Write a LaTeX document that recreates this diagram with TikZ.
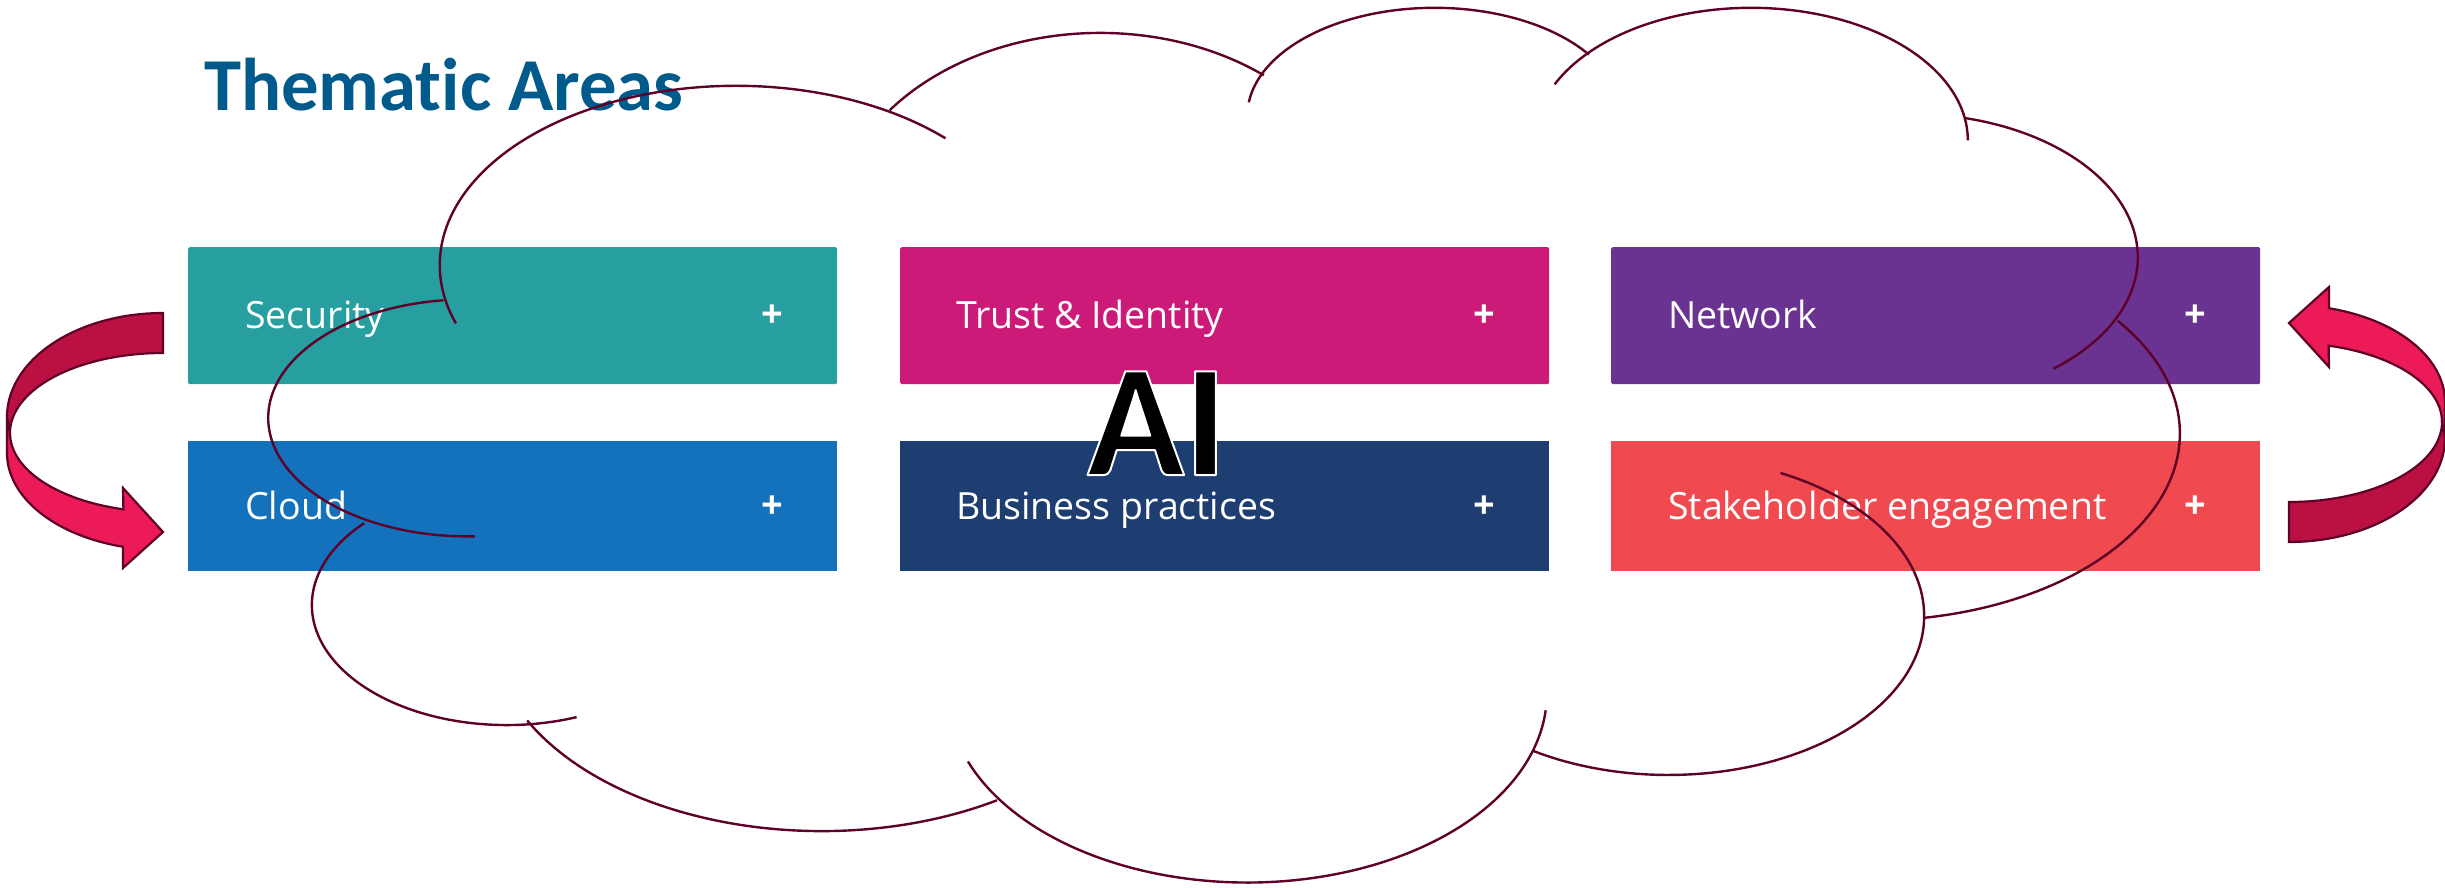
\documentclass[tikz,border=0pt]{standalone}
\usepackage{fontspec}
\setmainfont{Open Sans}
\newfontfamily\carlito[Ligatures=NoCommon]{Carlito}
\definecolor{teal1}{HTML}{279E9F}
\definecolor{pink1}{HTML}{CC1A78}
\definecolor{purple1}{HTML}{6A3291}
\definecolor{blue1}{HTML}{1372BB}
\definecolor{navy1}{HTML}{1E3D70}
\definecolor{coral1}{HTML}{F04A50}
\definecolor{titleblue}{HTML}{005A8B}
\definecolor{wine}{HTML}{5F0028}
\definecolor{arrdark}{HTML}{BA1042}
\definecolor{arrlight}{HTML}{ED1A58}
\tikzset{
  card/.style={fill=#1,draw=none,inner sep=0pt,minimum width=649pt,minimum height=137pt,anchor=north west,rounded corners=1.5pt},
  cardlow/.style={fill=#1,draw=none,inner sep=0pt,minimum width=649pt,minimum height=130pt,anchor=north west},
  lab/.style={text=white,anchor=base west,inner sep=0pt,font=\fontsize{37.5}{40}\selectfont},
  plus/.style={text=white,anchor=center,inner sep=0pt,font=\bfseries\fontsize{38}{40}\selectfont},
  lobe/.style={draw=wine,line width=2.4pt,line cap=butt},
  band/.style={draw=wine,line width=2.2pt,line join=miter}
}
% elliptical arc in pixels (cx,cy,rx,ry,from,to); angle grows clockwise on screen
\newcommand\earc[6]{plot[domain=#5:#6,samples=70] ({#1+#3*cos(\x)},{#2+#4*sin(\x)})}
\newcommand\earcto[6]{-- plot[domain=#5:#6,samples=70] ({#1+#3*cos(\x)},{#2+#4*sin(\x)})}
% elliptical arc of the cloud, in units of the 1568-wide view
\newcommand\cloudlobe[6]{\draw[lobe] plot[domain=#5:#6,samples=90] ({1.5593*(#1+#3*cos(\x))},{1.5593*(#2+#4*sin(\x))});}
\newcommand\curvedarrow{%
  \fill[arrlight] \earc{163}{433}{153}{79}{180}{105} -- (123,488) -- (163,532) -- (123,568) -- (123,547) \earcto{163}{453}{156}{97}{105}{180} -- (7,417) -- cycle;
  \draw[band] \earc{163}{433}{153}{79}{180}{105} -- (123,488) -- (163,532) -- (123,568) -- (123,547) \earcto{163}{453}{156}{97}{105}{180} -- (7,417);
  \filldraw[band,fill=arrdark] \earc{163}{417}{156}{104}{270}{180} -- (10,433) \earcto{163}{433}{153}{80}{180}{270} -- cycle;
}
\begin{document}
\begin{tikzpicture}[x=1pt,y=-1pt]
\useasboundingbox (0,0) rectangle (2445,887);
% cards
\node[card=teal1] (security) at (188,247) {};
\node[card=pink1] (trust) at (900,247) {};
\node[card=purple1] (network) at (1611,247) {};
\node[cardlow=blue1] (cloud) at (188,441) {};
\node[cardlow=navy1] (business) at (900,441) {};
\node[cardlow=coral1] (stake) at (1611,441) {};
% labels
\node[lab] (l1) at (245,328) {Security};
\node[lab] (l2) at (956,328) {Trust \& Identity};
\node[lab] (l3) at (1668,328) {Network};
\node[lab] (l4) at (245,519) {Cloud};
\node[lab] (l5) at (956,519) {Business practices};
\node[lab] (l6) at (1668,519) {Stakeholder engagement};
\node[plus] (p1) at (772.5,316) {+};
\node[plus] (p2) at (1484,316) {+};
\node[plus] (p3) at (2195.5,316) {+};
\node[plus] (p4) at (772.5,507) {+};
\node[plus] (p5) at (1484,507) {+};
\node[plus] (p6) at (2195.5,507) {+};
% title
\node[anchor=base west,inner sep=0pt,text=titleblue,font=\carlito\bfseries\fontsize{74.7}{80}\selectfont] (title) at (204,110) {Thematic Areas};
% cloud outline
\cloudlobe{472}{170}{190}{115}{315}{161}
\cloudlobe{300}{268}{128}{76}{263}{88}
\cloudlobe{325}{388}{125}{77}{223}{69}
\cloudlobe{527}{403}{212}{130}{153}{58}
\cloudlobe{800}{445}{192}{121}{159}{5}
\cloudlobe{1070}{395}{164}{102}{122}{-64}
\cloudlobe{1200}{278}{198}{120}{80}{-37}
\cloudlobe{1225}{165}{146}{92}{51}{-76}
\cloudlobe{1123}{90}{139}{85}{360}{205}
\cloudlobe{920}{74}{120}{69}{325.6}{187}
\cloudlobe{705.5}{152.6}{172.5}{131.5}{307.5}{218.5}
% curved arrows
\curvedarrow
\begin{scope}[shift={(2452,855)},xscale=-1,yscale=-1]
\curvedarrow
\end{scope}
% AI
\node[inner sep=0pt,anchor=base west,text=black,font=\carlito\bfseries\fontsize{160}{170}\selectfont] (ai) at (1087,475) {\special{pdf:code q 2 Tr 2 w 1 j 1 1 1 RG}AI\special{pdf:code Q}};
\end{tikzpicture}
\end{document}
